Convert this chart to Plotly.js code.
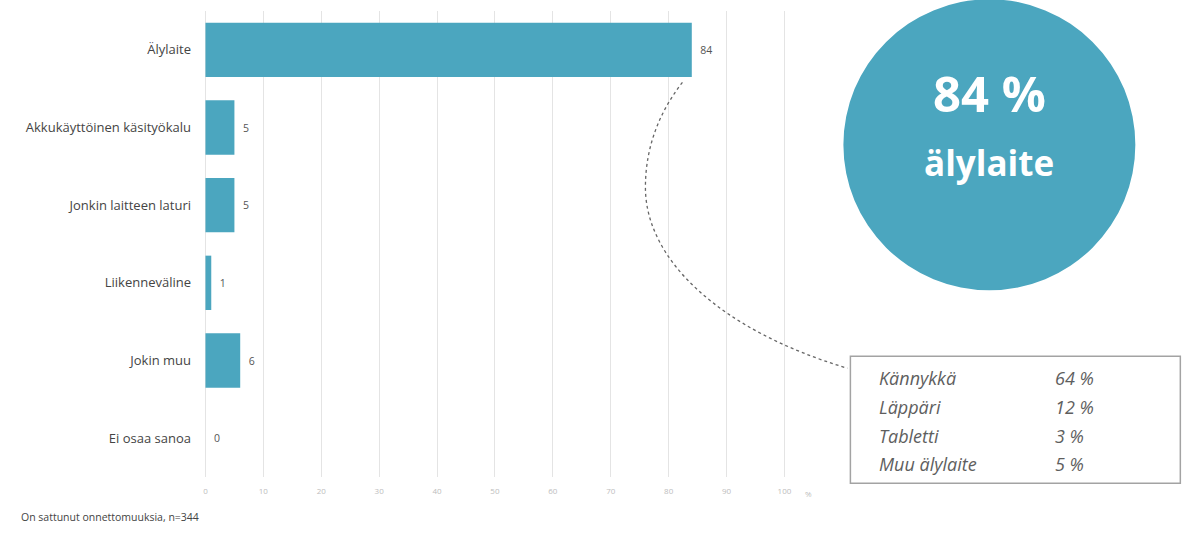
<!DOCTYPE html>
<html>
<head>
<meta charset="utf-8">
<script src="https://cdn.plot.ly/plotly-3.0.1.min.js"></script>
<style>html,body{margin:0;padding:0;background:#fff;}#chart{width:1182px;height:535px;}</style>
</head>
<body>
<div id="chart"></div>
<script>
// ---- data ----
const categories = ["Älylaite", "Akkukäyttöinen käsityökalu", "Jonkin laitteen laturi", "Liikenneväline", "Jokin muu", "Ei osaa sanoa"];
const values = [84, 5, 5, 1, 6, 0];
const tickValues = [0, 10, 20, 30, 40, 50, 60, 70, 80, 90, 100];
const tickLabels = ["0", "10", "20", "30", "40", "50", "60", "70", "80", "90", "100"];
const highlightValue = "84 %";
const highlightLabel = "älylaite";
const subLabels = ["Kännykkä", "Läppäri", "Tabletti", "Muu älylaite"];
const subValues = ["64 %", "12 %", "3 %", "5 %"];
const footnote = "On sattunut onnettomuuksia, n=344";

// ---- layout geometry (pixels) ----
const W = 1182, H = 535;
const xmin = -0.6, xmax = 102;
const ml = 201.5, mr = 386.4, mt = 10.7, mb = 58.2;
const plotW = W - ml - mr, plotH = H - mt - mb;
const px = x => (x - ml) / plotW;
const py = y => (H - mb - y) / plotH;

const barColor = "#4ba6bf";

const trace = {
  type: "bar",
  orientation: "h",
  x: values,
  y: categories,
  marker: { color: barColor },
  text: values.map(v => "\u00a0\u00a0" + v),
  textposition: "outside",
  cliponaxis: false,
  textfont: { family: "Open Sans, sans-serif", size: 10.5, color: "#555" },
  hoverinfo: "skip"
};

const shapes = [
  { type: "circle", xref: "paper", yref: "paper", x0: px(843), x1: px(1135), y0: py(290), y1: py(-1),
    fillcolor: barColor, line: { width: 0 }, layer: "above" },
  { type: "rect", xref: "paper", yref: "paper", x0: px(850), x1: px(1180), y0: py(483), y1: py(356),
    fillcolor: "#fff", line: { color: "#a3a3a3", width: 1.5 }, layer: "above" },
  { type: "path", xref: "paper", yref: "paper", layer: "above",
    path: "M" + px(682) + "," + py(82) +
          " Q" + px(645) + "," + py(130) + " " + px(645) + "," + py(187) +
          " C" + px(645) + "," + py(260) + " " + px(720) + "," + py(330) + " " + px(847) + "," + py(368),
    line: { color: "#666", width: 1.3, dash: "dot" } }
];

const annotations = [
  { xref: "paper", yref: "paper", x: px(989), y: py(93), text: "<b>" + highlightValue + "</b>", showarrow: false,
    font: { family: "Open Sans, sans-serif", size: 49, color: "#fff" }, xanchor: "center", yanchor: "middle" },
  { xref: "paper", yref: "paper", x: px(989), y: py(162), text: "<b>" + highlightLabel + "</b>", showarrow: false,
    font: { family: "Open Sans, sans-serif", size: 35, color: "#fff" }, xanchor: "center", yanchor: "middle" },
  { xref: "paper", yref: "paper", x: px(808), y: py(493), text: "%", showarrow: false,
    font: { family: "Open Sans, sans-serif", size: 8, color: "#bdbdbd" }, xanchor: "center", yanchor: "middle" },
  { xref: "paper", yref: "paper", x: px(18), y: py(517), text: footnote, showarrow: false,
    font: { family: "Open Sans, sans-serif", size: 10.5, color: "#444" }, xanchor: "left", yanchor: "middle" }
];
const rowY = [378, 407, 436, 464];
subLabels.forEach((lab, i) => {
  annotations.push({ xref: "paper", yref: "paper", x: px(877), y: py(rowY[i]), text: "<i>" + lab + "</i>", showarrow: false,
    font: { family: "Open Sans, sans-serif", size: 18, color: "#5e5e5e" }, xanchor: "left", yanchor: "middle" });
  annotations.push({ xref: "paper", yref: "paper", x: px(1053), y: py(rowY[i]), text: "<i>" + subValues[i] + "</i>", showarrow: false,
    font: { family: "Open Sans, sans-serif", size: 18, color: "#5e5e5e" }, xanchor: "left", yanchor: "middle" });
});

const layout = {
  width: W, height: H,
  margin: { l: ml, r: mr, t: mt, b: mb, pad: 0 },
  paper_bgcolor: "#fff", plot_bgcolor: "#fff",
  showlegend: false,
  bargap: 0.3,
  xaxis: {
    range: [xmin, xmax], tickmode: "array", tickvals: tickValues, ticktext: tickLabels,
    showgrid: true, gridcolor: "#e4e4e4", gridwidth: 1, zeroline: false, showline: false, ticks: "",
    ticklabelstandoff: 8,
    tickfont: { family: "Open Sans, sans-serif", size: 8, color: "#bdbdbd" }, fixedrange: true
  },
  yaxis: {
    autorange: "reversed", type: "category", showgrid: false, zeroline: false, showline: false, ticks: "",
    ticklabelstandoff: 10,
    tickfont: { family: "Open Sans, sans-serif", size: 13, color: "#444" }, fixedrange: true
  },
  shapes: shapes,
  annotations: annotations
};

Plotly.newPlot("chart", [trace], layout, { displayModeBar: false, staticPlot: true });
</script>
</body>
</html>
